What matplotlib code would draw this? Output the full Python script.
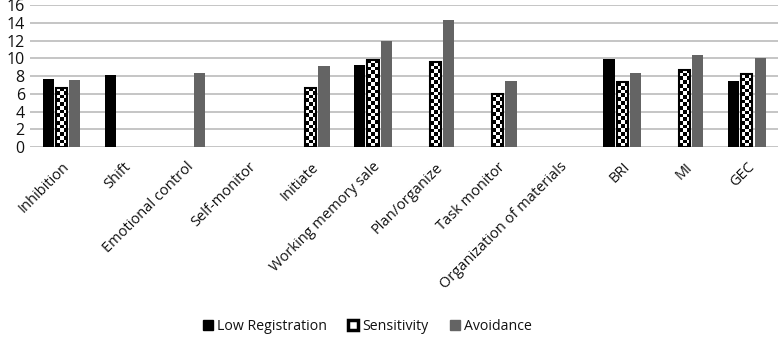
import matplotlib
matplotlib.use("Agg")
import matplotlib.pyplot as plt
import numpy as np
from matplotlib.patches import Patch

plt.rcParams['font.family'] = ['Open Sans', 'DejaVu Sans']

categories = ["Inhibition", "Shift", "Emotional control", "Self-monitor", "Initiate",
              "Working memory sale", "Plan/organize", "Task monitor",
              "Organization of materials", "BRI", "MI", "GEC"]
low_registration = [7.7, 8.1, np.nan, np.nan, np.nan, 9.3, np.nan, np.nan, np.nan, 9.9, np.nan, 7.4]
sensitivity = [6.7, np.nan, np.nan, np.nan, 6.7, 9.85, 9.55, 6.0, np.nan, 7.3, 8.7, 8.2]
avoidance = [7.6, np.nan, 8.4, np.nan, 9.1, 12.0, 14.3, 7.4, np.nan, 8.4, 10.35, 10.05]
yticks = [0, 2, 4, 6, 8, 10, 12, 14, 16]

fig = plt.figure(figsize=(7.78, 3.43), dpi=100)
ax = fig.add_axes([0.039, 0.571, 0.961, 0.414])

x = np.arange(len(categories))
w = 0.18
step = 0.213
ax.bar(x - step, low_registration, w, color='black', zorder=3)
sens_bars = ax.bar(x, sensitivity, w, fill=False, edgecolor='black', linewidth=1.5, zorder=4)
ax.bar(x + step, avoidance, w, color='#646464', zorder=3)

# checkerboard fill for sensitivity bars
cell_h = 0.42
for rect in sens_bars.patches:
    h = rect.get_height()
    if not np.isfinite(h) or h <= 0:
        continue
    left = rect.get_x()
    right = left + rect.get_width()
    nrows = max(1, int(round(h / cell_h)))
    ii, jj = np.mgrid[0:nrows, 0:3]
    arr = ((ii + jj) % 2).astype(float)
    im = ax.imshow(arr, extent=(left, right, 0, h), origin='lower', cmap='gray',
                   vmin=0, vmax=1, interpolation='nearest', aspect='auto', zorder=3.5)
    im.set_clip_path(rect)

ax.set_xlim(-0.5, len(categories) - 0.5)
ax.set_ylim(0, 16)
ax.set_yticks(yticks)
ax.yaxis.grid(True, color='#c0c0c0', linewidth=1.3, zorder=0)
ax.set_axisbelow(True)
for s in ax.spines.values():
    s.set_visible(False)
ax.tick_params(axis='both', length=0, colors='#111111')
ax.tick_params(axis='y', labelsize=11.5, pad=4)
ax.set_xticks(x)
ax.set_xticklabels(categories, rotation=45, ha='right', rotation_mode='anchor', fontsize=10.5)
ax.tick_params(axis='x', pad=9)

handles = [Patch(facecolor='black', edgecolor='black', label='Low Registration'),
           Patch(facecolor='white', edgecolor='black', linewidth=2.5, label='Sensitivity'),
           Patch(facecolor='#646464', edgecolor='#646464', label='Avoidance')]
leg = fig.legend(handles=handles, loc='center', bbox_to_anchor=(0.472, 0.047), ncol=3,
                 frameon=False, fontsize=10.2, handlelength=0.7, handleheight=0.7,
                 handletextpad=0.3, columnspacing=1.5)
for t in leg.get_texts():
    t.set_color('#111111')

fig.savefig("out.png", dpi=100)
